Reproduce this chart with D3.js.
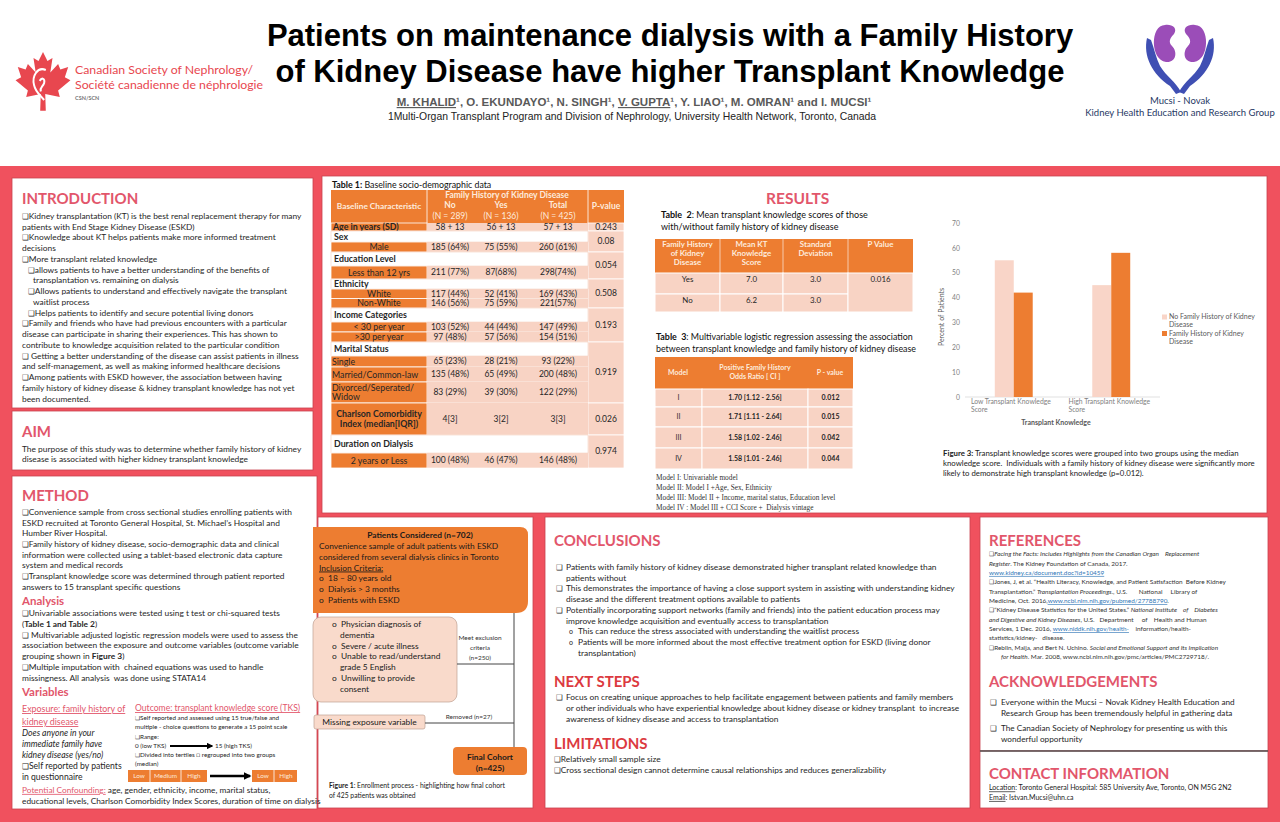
<!DOCTYPE html>
<html><head><meta charset="utf-8">
<script src="https://cdn.jsdelivr.net/npm/d3@7"></script>
<style>html,body{margin:0;padding:0;background:#fff;overflow:hidden} svg{display:block;font-family:Lato,"Open Sans",sans-serif;} text{white-space:pre}</style>
</head><body><svg id="poster" width="1280" height="822"></svg>
<script>
// ---------------- DATA ----------------
const chartCategories = ["Low Transplant Knowledge Score", "High Transplant Knowledge Score"];
const chartSeries = ["No Family History of Kidney Disease", "Family History of Kidney Disease"];
const noFamilyHistoryPct = [55, 45];
const familyHistoryPct = [42, 58];
const yTickValues = [0, 10, 20, 30, 40, 50, 60, 70];

const t1Labels = ["Age in years (SD)", "Sex", "Male", "Education Level", "Less than 12 yrs", "Ethnicity", "White", "Non-White", "Income Categories", "< 30 per year", ">30 per year", "Marital Status", "Single", "Married/Common-law", "Divorced/Seperated/|Widow", "Charlson Comorbidity|Index (median[IQR])", "Duration on Dialysis", "2 years or Less"];
const t1Kinds = ["lead", "group", "sub", "group", "sub", "group", "sub", "sub", "group", "sub", "sub", "group", "left", "left", "left", "bold", "group", "sub"];
const t1No = ["58 {+} 13", "", "185 (64%)", "", "211 (77%)", "", "117 (44%)", "146 (56%)", "", "103 (52%)", "97 (48%)", "", "65 (23%)", "135 (48%)", "83 (29%)", "4[3]", "", "100 (48%)"];
const t1Yes = ["56 {+} 13", "", "75 (55%)", "", "87(68%)", "", "52 (41%)", "75 (59%)", "", "44 (44%)", "57 (56%)", "", "28 (21%)", "65 (49%)", "39 (30%)", "3[2]", "", "46 (47%)"];
const t1Total = ["57 {+} 13", "", "260 (61%)", "", "298(74%)", "", "169 (43%)", "221(57%)", "", "147 (49%)", "154 (51%)", "", "93 (22%)", "200 (48%)", "122 (29%)", "3[3]", "", "146 (48%)"];
const t1PValues = ["0.243", "0.08", "0.054", "0.508", "0.193", "0.919", "0.026", "0.974"];
const t1PGroups = [[0, 0], [1, 2], [3, 4], [5, 7], [8, 10], [11, 14], [15, 15], [16, 17]];
const t1Heads = ["No", "Yes", "Total"];
const t1Ns = ["(N = 289)", "(N = 136)", "(N = 425)"];

const t2Groups = ["Yes", "No"];
const t2Mean = ["7.0", "6.2"];
const t2SD = ["3.0", "3.0"];
const t2P = "0.016";

const t3Models = ["I", "II", "III", "IV"];
const t3OR = ["1.70 [1.12 - 2.56]", "1.71 [1.11 - 2.64]", "1.58 [1.02 - 2.46]", "1.58 [1.01 - 2.46]"];
const t3P = ["0.012", "0.015", "0.042", "0.044"];

// ---------------- HELPERS ----------------
const svg = d3.select("#poster");
const RED = "#F0515E", HEAD = "#E2566B", HEAD2 = "#DC3A3F", ORANGE = "#ED7D31", PINK = "#F8D3C4", TXT = "#262626";
const BODY = 8.4;

function rich(parent, x, y, str, o = {}) {
  const t = parent.append("text").attr("x", x).attr("y", y).attr("dy", "0.35em")
    .attr("font-size", o.size || 8).attr("fill", o.color || TXT)
    .attr("font-family", o.family || "Lato, sans-serif");
  if (o.anchor) t.attr("text-anchor", o.anchor);
  if (o.weight) t.attr("font-weight", o.weight);
  if (o.style) t.attr("font-style", o.style);
  if (o.deco) t.attr("text-decoration", o.deco);
  const re = /(\*\*[^*]+\*\*|_[^_]+_|«[^»]+»|\{[^}]+\}|❑)/g;
  str.split(re).filter(s => s !== "" && s !== undefined).forEach(s => {
    const ts = t.append("tspan");
    if (s.startsWith("**")) ts.text(s.slice(2, -2)).attr("font-weight", "bold");
    else if (s.startsWith("_") && s.length > 2) ts.text(s.slice(1, -1)).attr("font-style", "italic");
    else if (s.startsWith("«")) ts.text(s.slice(1, -1)).attr("fill", "#2E75B6").attr("text-decoration", "underline");
    else if (s.startsWith("{")) ts.text(s.slice(1, -1)).attr("text-decoration", "underline");
    else if (s === "❑") ts.text("❑").attr("font-family", "DejaVu Sans").attr("font-size", (o.size || 8) * 0.9);
    else ts.text(s);
  });
  return t;
}
function lines(parent, x, y0, lh, arr, o = {}) {
  arr.forEach((ln, i) => {
    if (typeof ln === "object") rich(parent, x + (ln.dx || 0), y0 + i * lh, ln.t, o);
    else rich(parent, x, y0 + i * lh, ln, o);
  });
}
function heading(x, y, text, size, color) {
  svg.append("text").attr("x", x).attr("y", y).attr("dy", "0.35em").attr("font-size", size)
    .attr("font-weight", "bold").attr("fill", color || HEAD).text(text);
}
function rect(parent, x, y, w, h, fill, stroke, sw, rx) {
  const r = parent.append("rect").attr("x", x).attr("y", y).attr("width", w).attr("height", h).attr("fill", fill);
  if (stroke) r.attr("stroke", stroke).attr("stroke-width", sw || 1);
  if (rx) r.attr("rx", rx).attr("ry", rx);
  return r;
}
function line(parent, x1, y1, x2, y2, c, w) {
  return parent.append("line").attr("x1", x1).attr("y1", y1).attr("x2", x2).attr("y2", y2).attr("stroke", c || "#555").attr("stroke-width", w || 1);
}

// ---------------- HEADER ----------------
rect(svg, 0, 0, 1280, 166, "#fff");
rect(svg, 0, 166, 1280, 656, RED);

svg.append("text").attr("x", 670).attr("y", 46).attr("text-anchor", "middle").attr("font-family", "Liberation Sans, Arial, sans-serif")
  .attr("font-weight", "bold").attr("font-size", 31).attr("fill", "#000").text("Patients on maintenance dialysis with a Family History");
svg.append("text").attr("x", 670).attr("y", 82).attr("text-anchor", "middle").attr("font-family", "Liberation Sans, Arial, sans-serif")
  .attr("font-weight", "bold").attr("font-size", 31).attr("fill", "#000").text("of Kidney Disease have higher Transplant Knowledge");
rich(svg, 634, 102, "{M. KHALID}¹, O. EKUNDAYO¹, N. SINGH¹, {V. GUPTA}¹, Y. LIAO¹, M. OMRAN¹ and I. MUCSI¹",
  { size: 11.5, anchor: "middle", weight: "bold", color: "#595959", family: "Liberation Sans, Arial, sans-serif" });
rich(svg, 632, 116, "1Multi-Organ Transplant Program and Division of Nephrology, University Health Network, Toronto, Canada",
  { size: 10.4, anchor: "middle", color: "#222", family: "Liberation Sans, Arial, sans-serif" });

// CSN logo
const leaf = svg.append("g").attr("transform", "translate(15,52) scale(0.56,0.6)");
leaf.append("path").attr("fill", "#E8474F")
  .attr("d", "M50,0 L58,15 L67,10 L63,34 L77,20 L81,29 L95,25 L89,42 L99,47 L77,64 L80,75 L54,70 L55,98 L45,98 L46,70 L20,75 L23,64 L1,47 L11,42 L5,25 L19,29 L23,20 L37,34 L33,10 L42,15 Z");
leaf.append("path").attr("fill", "none").attr("stroke", "#fff").attr("stroke-width", 3.5)
  .attr("d", "M55,30 C40,24 30,40 34,55 C37,68 46,72 52,80 M44,48 C48,42 54,44 52,52 C50,58 44,58 46,66");
svg.append("text").attr("x", 75).attr("y", 70).attr("dy", "0.35em").attr("font-size", 12.3).attr("fill", "#E8474F").text("Canadian Society of Nephrology/");
svg.append("text").attr("x", 75).attr("y", 85).attr("dy", "0.35em").attr("font-size", 12.3).attr("fill", "#E8474F").text("Société canadienne de néphrologie");
svg.append("text").attr("x", 75).attr("y", 98).attr("dy", "0.35em").attr("font-size", 5.5).attr("font-weight", "bold").attr("fill", "#777").text("CSN/SCN");

// Mucsi-Novak logo
const ml = svg.append("g");
ml.append("path").attr("fill", "#3F4FB3")
  .attr("d", "M1147,38 C1143,56 1152,74 1170,86 L1176,94 L1181,92 C1176,82 1166,76 1160,66 C1156,58 1154,48 1151,40 Z");
ml.append("path").attr("fill", "#3F4FB3")
  .attr("d", "M1213,38 C1217,56 1208,74 1190,86 L1184,94 L1179,92 C1184,82 1194,76 1200,66 C1204,58 1206,48 1209,40 Z");
ml.append("path").attr("fill", "#9B4DB8")
  .attr("d", "M1165,25 C1150,25 1150,60 1166,62 C1176,63 1178,52 1172,46 C1168,42 1170,38 1174,34 C1178,28 1172,24 1165,25 Z");
ml.append("path").attr("fill", "#9B4DB8")
  .attr("d", "M1195,25 C1210,25 1210,60 1194,62 C1184,63 1182,52 1188,46 C1192,42 1190,38 1186,34 C1182,28 1188,24 1195,25 Z");
ml.append("path").attr("fill", "none").attr("stroke", "#fff").attr("stroke-width", 1.2).attr("d", "M1180,48 L1180,70");
svg.append("text").attr("x", 1180).attr("y", 101).attr("dy", "0.35em").attr("text-anchor", "middle").attr("font-size", 9.5).attr("fill", "#1F3864").text("Mucsi - Novak");
svg.append("text").attr("x", 1180).attr("y", 113).attr("dy", "0.35em").attr("text-anchor", "middle").attr("font-size", 9.5).attr("fill", "#1F3864").text("Kidney Health Education and Research Group");

// ---------------- PANELS ----------------
const panels = [
  [12, 178, 301, 230], [12, 411, 301, 59], [12, 476, 305, 333],
  [322, 176, 945, 337], [318, 517, 215, 291], [545, 517, 425, 291],
  [980, 517, 288, 234], [980, 751, 288, 57]
];
panels.forEach(p => rect(svg, p[0], p[1], p[2], p[3], "#fff", "#C9434E", 0.8));
line(svg, 980, 751, 1268, 751, "#555", 1.5);

// ---------------- INTRODUCTION ----------------
heading(22, 199, "INTRODUCTION", 15);
lines(svg, 22, 216, 10.75, [
  "❑Kidney transplantation (KT) is the best renal replacement therapy for many",
  "patients with End Stage Kidney Disease (ESKD)",
  "❑Knowledge about KT helps patients make more informed treatment",
  "decisions",
  "❑More transplant related knowledge",
  { dx: 6, t: "❑allows patients to have a better understanding of the benefits of" },
  { dx: 11, t: "transplantation vs. remaining on dialysis" },
  { dx: 6, t: "❑Allows patients to understand and effectively navigate the transplant" },
  { dx: 11, t: "waitlist process" },
  { dx: 6, t: "❑Helps patients to identify and secure potential living donors" },
  "❑Family and friends who have had previous encounters with a particular",
  "disease can participate in sharing their experiences. This has shown to",
  "contribute to knowledge acquisition related to the particular condition",
  "❑ Getting a better understanding of the disease can assist patients in illness",
  "and self-management, as well as making informed healthcare decisions",
  "❑Among patients with ESKD however, the association between having",
  "family history of kidney disease & kidney transplant knowledge has not yet",
  "been documented."
], { size: BODY });

// ---------------- AIM ----------------
heading(22, 432, "AIM", 15);
lines(svg, 22, 449, 10.5, [
  "The purpose of this study was to determine whether family history of kidney",
  "disease is associated with higher kidney transplant knowledge"
], { size: BODY });

// ---------------- METHOD ----------------
heading(22, 496, "METHOD", 15);
lines(svg, 22, 512, 10.7, [
  "❑Convenience sample from cross sectional studies enrolling patients with",
  "ESKD recruited at Toronto General Hospital, St. Michael’s Hospital and",
  "Humber River Hospital.",
  "❑Family history of kidney disease, socio-demographic data and clinical",
  "information were collected using a tablet-based electronic data capture",
  "system and medical records",
  "❑Transplant knowledge score was determined through patient reported",
  "answers to 15 transplant specific questions"
], { size: BODY });
heading(22, 601, "Analysis", 11.5);
lines(svg, 22, 613, 10.8, [
  "❑Univariable associations were tested using t test or chi-squared tests",
  "(**Table 1 and Table 2**)",
  "❑ Multivariable adjusted logistic regression models were used to assess the",
  "association between the exposure and outcome variables (outcome variable",
  "grouping shown in **Figure 3**)",
  "❑Multiple imputation with  chained equations was used to handle",
  "missingness. All analysis  was done using STATA14"
], { size: BODY });
heading(22, 692, "Variables", 11.5);
rich(svg, 22, 709, "Exposure: family history of", { size: 8.9, color: HEAD, deco: "underline" });
rich(svg, 22, 722, "kidney disease", { size: 8.9, color: HEAD, deco: "underline" });
lines(svg, 22, 733, 10.8, ["Does anyone in your", "immediate family have", "kidney disease (yes/no)"], { size: 8.6, style: "italic" });
lines(svg, 22, 766, 11, ["❑Self reported by patients", "in questionnaire"], { size: 8.6 });
rich(svg, 135, 708, "Outcome: transplant knowledge score (TKS)", { size: 8.6, color: HEAD, deco: "underline" });
lines(svg, 135, 718, 9.2, [
  "❑Self reported and assessed using 15 true/false and",
  "multiple - choice questions to generate a 15 point scale",
  "❑Range:",
  "0 (low TKS)",
  "❑Divided into tertiles □ regrouped into two groups",
  "(median)"
], { size: 6.3 });
const defs = svg.append("defs");
defs.append("marker").attr("id", "arr").attr("viewBox", "0 0 10 10").attr("refX", 8).attr("refY", 5)
  .attr("markerWidth", 3).attr("markerHeight", 3).attr("orient", "auto")
  .append("path").attr("d", "M0,0 L10,5 L0,10 Z").attr("fill", "#000");
line(svg, 170, 746, 212, 746, "#000", 2.2).attr("marker-end", "url(#arr)");
rich(svg, 215, 746, "15 (high TKS)", { size: 6.3 });
const tert = ["Low", "Medium", "High"], tertX = [128, 150, 181, 207];
rect(svg, 128, 770, 79, 12, ORANGE);
tert.forEach((t, i) => {
  rich(svg, (tertX[i] + tertX[i + 1]) / 2, 776, t, { size: 6.4, color: "#FDE9D9", anchor: "middle" });
  if (i > 0) line(svg, tertX[i], 770, tertX[i], 782, "#fff", 0.8);
});
line(svg, 210, 776, 250, 776, "#000", 2.5).attr("marker-end", "url(#arr)");
rect(svg, 252, 770, 45, 12, ORANGE);
line(svg, 274, 770, 274, 782, "#fff", 0.8);
rich(svg, 263, 776, "Low", { size: 6.4, color: "#FDE9D9", anchor: "middle" });
rich(svg, 286, 776, "High", { size: 6.4, color: "#FDE9D9", anchor: "middle" });
const pc = rich(svg, 22, 790, "", { size: 8.3 });
pc.append("tspan").attr("fill", HEAD).attr("text-decoration", "underline").text("Potential Confounding:");
pc.append("tspan").text(" age, gender, ethnicity, income, marital status,");
rich(svg, 22, 801, "educational levels, Charlson Comorbidity Index Scores, duration of time on dialysis", { size: 8.3 });

// ---------------- TABLE 1 ----------------
const t1g = svg.append("g");
rich(t1g, 332, 185, "**Table 1:** Baseline socio-demographic data", { size: 8.8, color: "#111" });
const X0 = 331, X1 = 427, XV = [427, 474, 528, 588], XP = [588, 624];
const edges = [223, 231, 242, 252, 266, 279, 289, 298.5, 308, 322, 332, 342, 356, 367, 382, 403, 435, 453, 468];
rect(t1g, X0, 190, XP[1] - X0, 33, ORANGE);
line(t1g, X1, 190, X1, 223, "#fff", 0.8);
line(t1g, XP[0], 190, XP[0], 223, "#fff", 0.8);
const hcol = "#FDEBDD";
rich(t1g, 379, 206, "Baseline Characteristic", { size: 8.3, weight: "bold", color: hcol, anchor: "middle" });
rich(t1g, 507, 195, "Family History of Kidney Disease", { size: 8.5, weight: "bold", color: hcol, anchor: "middle" });
const vCenters = [450, 501, 558];
t1Heads.forEach((h, i) => {
  rich(t1g, vCenters[i], 205.5, h, { size: 8.5, weight: "bold", color: hcol, anchor: "middle" });
  rich(t1g, vCenters[i], 216, t1Ns[i], { size: 8.5, color: hcol, anchor: "middle" });
});
rich(t1g, 606, 206, "P-value", { size: 8.5, weight: "bold", color: hcol, anchor: "middle" });
t1PGroups.forEach((g, i) => {
  const y0 = edges[g[0]], y1 = edges[g[1] + 1];
  rect(t1g, XP[0], y0, XP[1] - XP[0], y1 - y0, PINK, "#fff", 0.8);
  rich(t1g, 606, (y0 + y1) / 2, t1PValues[i], { size: 8.5, anchor: "middle" });
});
t1Labels.forEach((lab, i) => {
  const y0 = edges[i], y1 = edges[i + 1], cy = (y0 + y1) / 2, k = t1Kinds[i];
  if (k === "group") {
    rect(t1g, X0, y0, XP[0] - X0, y1 - y0, "#fff", "#F3C8B5", 0.5);
    rich(t1g, X0 + 3, cy, lab, { size: 8.8, weight: "bold" });
    return;
  }
  rect(t1g, X0, y0, X1 - X0, y1 - y0, ORANGE, "#fff", 0.8);
  [t1No, t1Yes, t1Total].forEach((arr, j) => {
    rect(t1g, XV[j], y0, XV[j + 1] - XV[j], y1 - y0, PINK);
    rich(t1g, vCenters[j], cy, arr[i], { size: 8.5, anchor: "middle" });
  });
  line(t1g, X1, y1, XP[0], y1, "#fff", 0.6);
  const parts = lab.split("|");
  if (k === "lead") rich(t1g, X0 + 2, cy, lab, { size: 8.8, weight: "bold" });
  else if (k === "sub") rich(t1g, 379, cy, lab, { size: 8.8, anchor: "middle" });
  else if (k === "left") parts.forEach((p, m) => rich(t1g, X0 + 1, cy + (m - (parts.length - 1) / 2) * 9.5, p, { size: 8.8 }));
  else if (k === "bold") parts.forEach((p, m) => rich(t1g, 379, cy + (m - (parts.length - 1) / 2) * 10, p, { size: 8.8, weight: "bold", anchor: "middle" }));
});

// ---------------- RESULTS ----------------
heading(797 - 31, 199, "RESULTS", 15.5);
lines(svg, 661, 215, 11.5, ["**Table  2**: Mean transplant knowledge scores of those", "with/without family history of kidney disease"], { size: 9, color: "#111" });
const t2g = svg.append("g");
const T2X = [655, 720, 783, 848, 913];
rect(t2g, 655, 239, 258, 34, ORANGE);
[["Family History", "of Kidney", "Disease"], ["Mean KT", "Knowledge", "Score"], ["Standard", "Deviation"], ["P Value"]].forEach((h, i) => {
  h.forEach((s, m) => rich(t2g, (T2X[i] + T2X[i + 1]) / 2, 244 + m * 9, s, { size: 7.9, weight: "bold", color: hcol, anchor: "middle" }));
  if (i > 0) line(t2g, T2X[i], 239, T2X[i], 273, "#fff", 0.6);
});
const t2Edges = [273, 294, 312];
t2Groups.forEach((g, i) => {
  const y0 = t2Edges[i], y1 = t2Edges[i + 1];
  [g, t2Mean[i], t2SD[i]].forEach((v, j) => {
    rect(t2g, T2X[j], y0, T2X[j + 1] - T2X[j], y1 - y0, PINK, "#fff", 1);
    rich(t2g, (T2X[j] + T2X[j + 1]) / 2, y0 + 6, v, { size: 7.9, anchor: "middle" });
  });
});
rect(t2g, T2X[3], 273, T2X[4] - T2X[3], 39, PINK, "#fff", 1);
rich(t2g, (T2X[3] + T2X[4]) / 2, 279, t2P, { size: 7.9, anchor: "middle" });

lines(svg, 656, 337, 11.5, ["**Table  3**: Multivariable logistic regression assessing the association", "between transplant knowledge and family history of kidney disease"], { size: 8.9, color: "#111" });
const t3g = svg.append("g");
const T3X = [655, 702, 808, 853];
rect(t3g, 655, 357, 198, 32, ORANGE);
rich(t3g, 678, 373, "Model", { size: 7, weight: "bold", color: hcol, anchor: "middle" });
rich(t3g, 755, 368, "Positive Family History", { size: 7, weight: "bold", color: hcol, anchor: "middle" });
rich(t3g, 755, 377, "Odds Ratio [ CI ]", { size: 7, weight: "bold", color: hcol, anchor: "middle" });
rich(t3g, 830, 373, "P - value", { size: 7, weight: "bold", color: hcol, anchor: "middle" });
const t3Edges = [389, 407, 427, 448, 469];
t3Models.forEach((m, i) => {
  const y0 = t3Edges[i], y1 = t3Edges[i + 1], cy = (y0 + y1) / 2;
  [m, t3OR[i], t3P[i]].forEach((v, j) => {
    rect(t3g, T3X[j], y0, T3X[j + 1] - T3X[j], y1 - y0, PINK, "#fff", 1);
    rich(t3g, (T3X[j] + T3X[j + 1]) / 2, cy, v, { size: 7, weight: j > 0 ? "bold" : "normal", anchor: "middle" });
  });
});
lines(svg, 656, 477, 10, [
  "Model I: Univariable model",
  "Model II: Model I +Age, Sex, Ethnicity",
  "Model III: Model II + Income, marital status, Education level",
  "Model IV : Model III + CCI Score +  Dialysis vintage"
], { size: 7.3, family: "Liberation Serif, Times New Roman, serif", color: "#333" });

// ---------------- BAR CHART ----------------
const ch = svg.append("g");
const y = d3.scaleLinear().domain([0, 70]).range([397, 223]);
const x0 = d3.scaleBand().domain(chartCategories).range([965, 1160]);
const x1 = d3.scaleBand().domain(chartSeries).range([0, x0.bandwidth()]).paddingInner(0).paddingOuter(1.57);
const seriesColors = d3.scaleOrdinal().domain(chartSeries).range(["#F9D5C8", ORANGE]);
const seriesVals = [noFamilyHistoryPct, familyHistoryPct];
ch.append("g").attr("transform", "translate(965,0)")
  .call(d3.axisLeft(y).tickValues(yTickValues).tickSize(0).tickPadding(5))
  .call(g => g.select(".domain").remove())
  .call(g => g.selectAll("text").attr("font-size", 6.8).attr("fill", "#7F7F7F").attr("font-family", "Lato, sans-serif"));
line(ch, 965, y(0), 1160, y(0), "#D9D9D9", 0.8);
chartSeries.forEach((s, si) => {
  ch.selectAll(null).data(chartCategories).enter().append("rect")
    .attr("x", d => x0(d) + x1(s)).attr("width", x1.bandwidth())
    .attr("y", (d, i) => y(seriesVals[si][i])).attr("height", (d, i) => y(0) - y(seriesVals[si][i]))
    .attr("fill", seriesColors(s));
});
chartCategories.forEach(c => {
  const words = c.split(" ");
  rich(ch, x0(c) + 6, 402, words.slice(0, 3).join(" "), { size: 6.8, color: "#7F7F7F" });
  rich(ch, x0(c) + 6, 409.5, words.slice(3).join(" "), { size: 6.8, color: "#7F7F7F" });
});
rich(ch, 1056, 423, "Transplant Knowledge", { size: 7, color: "#595959", weight: "bold", anchor: "middle" });
ch.append("text").attr("transform", "translate(942,317) rotate(-90)").attr("text-anchor", "middle").attr("dy", "0.35em")
  .attr("font-size", 7).attr("fill", "#595959").text("Percent of Patients");
chartSeries.forEach((s, i) => {
  const ly = 317 + i * 16.5;
  rect(ch, 1162, ly - 2.5, 5, 5, seriesColors(s));
  const w = s.split(" ");
  const first = i === 0 ? w.slice(0, 5).join(" ") : w.slice(0, 4).join(" ");
  rich(ch, 1169, ly, first, { size: 7, color: "#595959" });
  rich(ch, 1169, ly + 8, "Disease", { size: 7, color: "#595959" });
});
lines(svg, 943, 453, 10, [
  "**Figure 3:** Transplant knowledge scores were grouped into two groups using the median",
  "knowledge score.  Individuals with a family history of kidney disease were significantly more",
  "likely to demonstrate high transplant knowledge (p=0.012)."
], { size: 7.8, color: "#222" });

// ---------------- FLOWCHART ----------------
const fc = svg.append("g");
fc.append("path").attr("fill", ORANGE)
  .attr("d", "M313,527 L520,527 Q528,527 528,535 L528,601 Q528,613 516,613 L313,613 Z");
rich(fc, 420, 535, "Patients Considered (n=702)", { size: 8.4, weight: "bold", anchor: "middle", color: "#1a1a1a" });
lines(fc, 319, 546, 10.8, [
  "Convenience sample of adult patients with ESKD",
  "considered from several dialysis clinics in Toronto",
  "{Inclusion Criteria:}",
  "o  18 – 80 years old",
  "o  Dialysis > 3 months",
  "o  Patients with ESKD"
], { size: 8.4, color: "#1a1a1a" });
line(fc, 514, 613, 514, 747, "#444", 1);
rect(fc, 313, 617, 144, 85, "#F9DACB", "#BFA092", 0.7, 8);
lines(fc, 332, 624, 10.8, [
  "o  Physician diagnosis of",
  { dx: 8, t: "dementia" },
  "o  Severe / acute illness",
  "o  Unable to read/understand",
  { dx: 8, t: "grade 5 English" },
  "o  Unwilling to provide",
  { dx: 8, t: "consent" }
], { size: 8.4, color: "#1a1a1a" });
line(fc, 457, 664, 514, 664, "#444", 1);
lines(fc, 480, 638, 10, ["Meet exclusion", "criteria", "(n=250)"], { size: 6.5, anchor: "middle", color: "#333" });
rect(fc, 314, 715, 111, 14, "#F9DACB", "#BFA092", 0.7, 2);
rich(fc, 369.5, 722, "Missing exposure variable", { size: 8.4, anchor: "middle", color: "#1a1a1a" });
line(fc, 425, 723, 514, 723, "#444", 1);
rich(fc, 469, 717, "Removed (n=27)", { size: 6.5, anchor: "middle", color: "#333" });
rect(fc, 453, 747, 74, 28, ORANGE, null, 0, 4);
rich(fc, 490, 757, "Final Cohort", { size: 8.4, weight: "bold", anchor: "middle", color: "#1a1a1a" });
rich(fc, 490, 768, "(n=425)", { size: 8.4, weight: "bold", anchor: "middle", color: "#1a1a1a" });
lines(fc, 329, 786, 9.5, ["**Figure 1**: Enrollment process - highlighting how final cohort", "of 425 patients was obtained"], { size: 6.8, color: "#222" });

// ---------------- CONCLUSIONS ----------------
heading(554, 541, "CONCLUSIONS", 15);
const concl = [
  ["b", "Patients with family history of kidney disease demonstrated higher transplant related knowledge than"],
  ["", "patients without"],
  ["b", "This demonstrates the importance of having a close support system in assisting with understanding kidney"],
  ["", "disease and the different treatment options available to patients"],
  ["b", "Potentially incorporating support networks (family and friends) into the patient education process may"],
  ["", "improve knowledge acquisition and eventually access to transplantation"],
  ["o", "This can reduce the stress associated with understanding the waitlist process"],
  ["o", "Patients will be more informed about the most effective treatment option for ESKD (living donor"],
  ["s", "transplantation)"]
];
concl.forEach((c, i) => {
  const yy = 567 + i * 10.75;
  if (c[0] === "b") rich(svg, 556, yy, "❑", { size: 8.4 });
  if (c[0] === "o") rich(svg, 569, yy, "o", { size: 7 });
  rich(svg, (c[0] === "o" || c[0] === "s") ? 578 : 566, yy, c[1], { size: BODY });
});
heading(554, 682, "NEXT STEPS", 15, HEAD2);
rich(svg, 556, 697, "❑", { size: 8.4 });
lines(svg, 566, 697, 10.9, [
  "Focus on creating unique approaches to help facilitate engagement between patients and family members",
  "or other individuals who have experiential knowledge about kidney disease or kidney transplant  to increase",
  "awareness of kidney disease and access to transplantation"
], { size: BODY });
heading(554, 744, "LIMITATIONS", 15, HEAD2);
lines(svg, 554, 759, 10.8, [
  "❑Relatively small sample size",
  "❑Cross sectional design cannot determine causal relationships and reduces generalizability"
], { size: BODY });

// ---------------- REFERENCES ----------------
heading(989, 541, "REFERENCES", 15);
lines(svg, 989, 554, 9.35, [
  "❑_Facing the Facts: Includes Highlights from the Canadian Organ    Replacement_",
  "_Register_. The Kidney Foundation of Canada, 2017.",
  "«www.kidney.ca/document.doc?id=10459»",
  "❑Jones, J, et al. “Health Literacy, Knowledge, and Patient Satisfaction  Before Kidney",
  "Transplantation.” _Transplantation Proceedings_., U.S.       National     Library of",
  "Medicine, Oct. 2016,«www.ncbi.nlm.nih.gov/pubmed/27788790».",
  "❑“Kidney Disease Statistics for the United States.” _National Institute    of    Diabetes_",
  "_and Digestive and Kidney Diseases_, U.S.   Department     of    Health and Human",
  "Services, 1 Dec. 2016, «www.niddk.nih.gov/health-»    information/health-",
  "statistics/kidney-   disease.",
  "❑Reblin, Maija, and Bert N. Uchino. _Social and Emotional Support and Its Implication_",
  { dx: 12, t: "_for Health_. Mar. 2008, www.ncbi.nlm.nih.gov/pmc/articles/PMC2729718/." }
], { size: 6.4, color: "#333" });
heading(989, 682, "ACKNOWLEDGEMENTS", 15);
rich(svg, 990, 702, "❑", { size: 8.4 });
rich(svg, 990, 728, "❑", { size: 8.4 });
lines(svg, 1001, 702, 10.8, ["Everyone within the Mucsi – Novak Kidney Health Education and", "Research Group has been tremendously helpful in gathering data"], { size: 8.2 });
lines(svg, 1001, 728, 10.8, ["The Canadian Society of Nephrology for presenting us with this", "wonderful opportunity"], { size: 8.2 });
heading(989, 774, "CONTACT INFORMATION", 15);
lines(svg, 989, 788, 9.5, [
  "{Location}: Toronto General Hospital: 585 University Ave, Toronto, ON M5G 2N2",
  "{Email}: Istvan.Mucsi@uhn.ca"
], { size: 7.0, color: "#222" });
</script></body></html>
